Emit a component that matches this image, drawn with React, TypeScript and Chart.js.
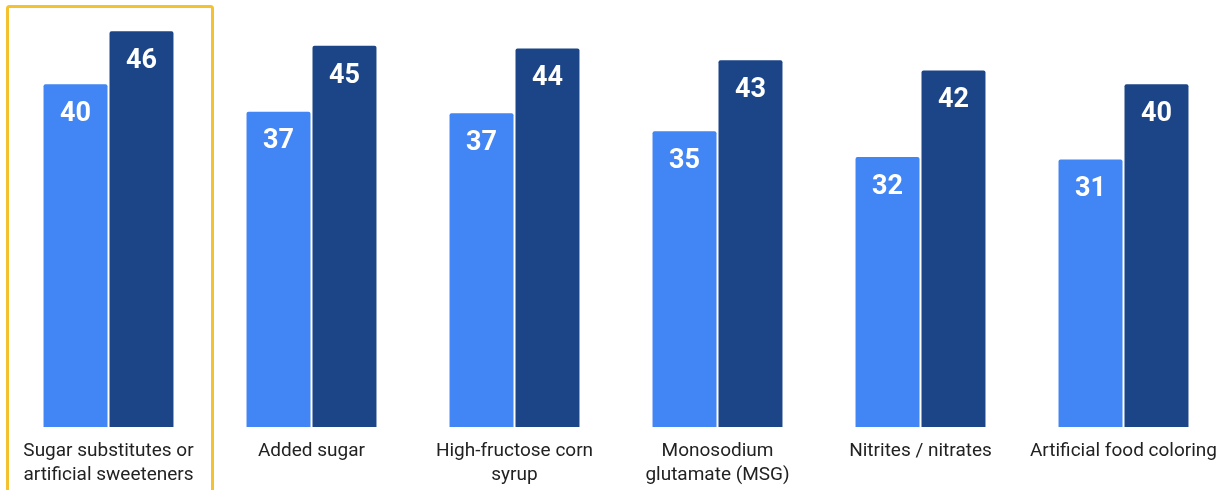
import React, { useEffect, useRef } from "react";
import { Chart, registerables } from "chart.js";

Chart.register(...registerables);

const categories: (string | string[])[] = [
  ["Sugar substitutes or", "artificial sweeteners"],
  "Added sugar",
  ["High-fructose corn", "syrup"],
  ["Monosodium", "glutamate (MSG)"],
  "Nitrites / nitrates",
  "Artificial food coloring",
];

const seriesLight: number[] = [40.2, 37.0, 36.8, 34.7, 31.7, 31.4];
const seriesDark: number[] = [46.4, 44.7, 44.4, 43.0, 41.8, 40.2];

const LIGHT = "#4285F4";
const DARK = "#1C4587";
const HIGHLIGHT = "#F4C231";

const valueLabelPlugin = {
  id: "valueLabels",
  afterDatasetsDraw(chart: any) {
    const ctx = chart.ctx;
    ctx.save();
    ctx.fillStyle = "#ffffff";
    ctx.font = "bold 27px Roboto";
    ctx.textAlign = "center";
    ctx.textBaseline = "middle";
    chart.data.datasets.forEach((ds: any, di: number) => {
      const meta = chart.getDatasetMeta(di);
      meta.data.forEach((el: any, i: number) => {
        const v = Math.round(ds.data[i]);
        ctx.fillText(String(v), el.x, el.y + 31);
      });
    });
    ctx.restore();
  },
};

const highlightPlugin = {
  id: "highlightBox",
  afterDraw(chart: any) {
    const ctx = chart.ctx;
    const xs = chart.scales.x;
    const c = xs.getPixelForValue(0);
    const left = c - 101;
    const right = c + 104;
    ctx.save();
    ctx.strokeStyle = HIGHLIGHT;
    ctx.lineWidth = 3;
    ctx.beginPath();
    ctx.roundRect(left, 6.5, right - left, 500, 2);
    ctx.stroke();
    ctx.restore();
  },
};

export default function App() {
  const ref = useRef<HTMLCanvasElement | null>(null);
  useEffect(() => {
    if (!ref.current) return;
    const chart = new Chart(ref.current, {
      type: "bar",
      data: {
        labels: categories,
        datasets: [
          {
            label: "Light",
            data: seriesLight,
            backgroundColor: LIGHT,
            borderColor: "#ffffff",
            borderWidth: 1,
            borderRadius: 3,
            categoryPercentage: 0.65,
            barPercentage: 1,
          },
          {
            label: "Dark",
            data: seriesDark,
            backgroundColor: DARK,
            borderColor: "#ffffff",
            borderWidth: 1,
            borderRadius: 3,
            categoryPercentage: 0.65,
            barPercentage: 1,
          },
        ],
      },
      options: {
        animation: false,
        responsive: true,
        maintainAspectRatio: false,
        layout: { padding: { top: 16.6, left: 7, right: 6, bottom: 0 } },
        plugins: {
          legend: { display: false },
          tooltip: { enabled: false },
          title: { display: false },
        },
        scales: {
          x: {
            grid: { display: false, drawTicks: false },
            border: { display: false },
            ticks: {
              color: "#222222",
              font: { family: "Roboto", size: 19, lineHeight: 1.26 },
              padding: 12,
              autoSkip: false,
              maxRotation: 0,
              minRotation: 0,
            },
            afterFit: (scale: any) => {
              scale.height = 63;
            },
          },
          y: {
            display: false,
            min: 0,
            max: 48,
          },
        },
      },
      plugins: [valueLabelPlugin, highlightPlugin],
    });
    return () => chart.destroy();
  }, []);
  return (
    <div style={{ position: "fixed", left: 0, top: 0, width: 1231, height: 490, background: "#ffffff" }}>
      <canvas ref={ref} />
    </div>
  );
}
